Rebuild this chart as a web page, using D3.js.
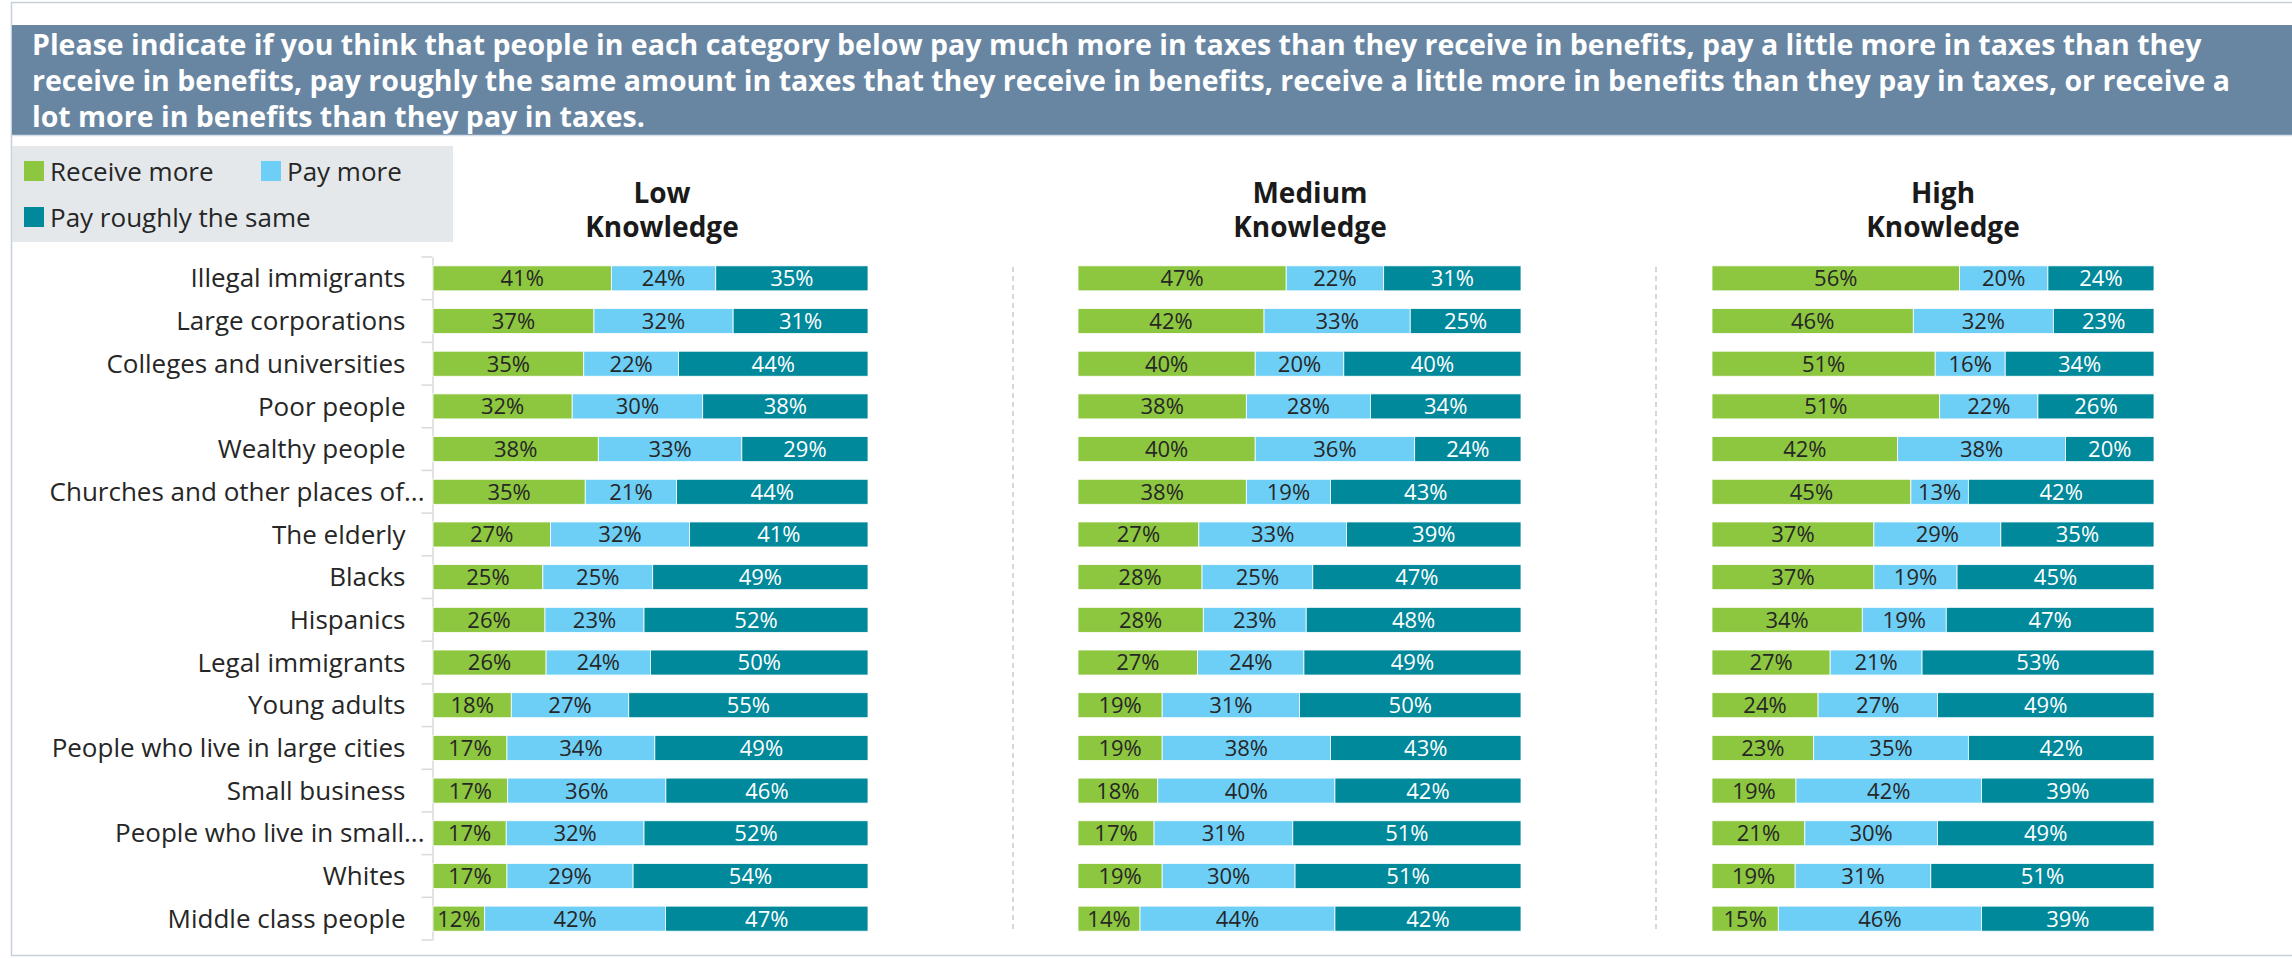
<!DOCTYPE html>
<html>
<head>
<meta charset="utf-8">
<script src="https://cdn.jsdelivr.net/npm/d3@7"></script>
<style>
  html, body { margin: 0; padding: 0; background: #fff; }
  svg { display: block; font-family: "Open Sans", "Noto Sans", sans-serif; }
</style>
</head>
<body>
<svg id="chart" width="2292" height="958"></svg>
<script>
// ---- data ----
const titleLines = [
    "Please indicate if you think that people in each category below pay much more in taxes than they receive in benefits, pay a little more in taxes than they",
    "receive in benefits, pay roughly the same amount in taxes that they receive in benefits, receive a little more in benefits than they pay in taxes, or receive a",
    "lot more in benefits than they pay in taxes."
];

const categories = [
    "Illegal immigrants", "Large corporations", "Colleges and universities", "Poor people",
    "Wealthy people", "Churches and other places of...", "The elderly", "Blacks",
    "Hispanics", "Legal immigrants", "Young adults", "People who live in large cities",
    "Small business", "People who live in small...", "Whites", "Middle class people"
];

const seriesNames = ["Receive more", "Pay more", "Pay roughly the same"];
const panelNames = [["Low", "Knowledge"], ["Medium", "Knowledge"], ["High", "Knowledge"]];

const lowReceive = [41, 37, 35, 32, 38, 35, 27, 25, 26, 26, 18, 17, 17, 17, 17, 12];
const lowPay     = [24, 32, 22, 30, 33, 21, 32, 25, 23, 24, 27, 34, 36, 32, 29, 42];
const lowSame    = [35, 31, 44, 38, 29, 44, 41, 49, 52, 50, 55, 49, 46, 52, 54, 47];

const medReceive = [47, 42, 40, 38, 40, 38, 27, 28, 28, 27, 19, 19, 18, 17, 19, 14];
const medPay     = [22, 33, 20, 28, 36, 19, 33, 25, 23, 24, 31, 38, 40, 31, 30, 44];
const medSame    = [31, 25, 40, 34, 24, 43, 39, 47, 48, 49, 50, 43, 42, 51, 51, 42];

const highReceive = [56, 46, 51, 51, 42, 45, 37, 37, 34, 27, 24, 23, 19, 21, 19, 15];
const highPay     = [20, 32, 16, 22, 38, 13, 29, 19, 19, 21, 27, 35, 42, 30, 31, 46];
const highSame    = [24, 23, 34, 26, 20, 42, 35, 45, 47, 53, 49, 42, 39, 49, 51, 39];

// ---- layout / style ----
const colors = ["#8dc63f", "#6dcff6", "#00889b"];
const labelColors = ["#262626", "#262626", "#ffffff"];
const panelRanges = [[433, 868], [1078, 1521], [1712, 2154]];
const panelTitleX = [662, 1310, 1943];
const separatorX = [null, 1013, 1656];

const svg = d3.select("#chart");

// outer frame
svg.append("rect")
    .attr("x", 11.5).attr("y", 2.5)
    .attr("width", 2300).attr("height", 953)
    .attr("fill", "#fff")
    .attr("stroke", "#c5d0da").attr("stroke-width", 1.5);

// title bar
svg.append("rect")
    .attr("x", 12).attr("y", 25)
    .attr("width", 2280).attr("height", 110)
    .attr("fill", "#6886a2");
svg.append("line")
    .attr("x1", 12).attr("x2", 2292)
    .attr("y1", 135.5).attr("y2", 135.5)
    .attr("stroke", "#d6e0ea").attr("stroke-width", 1.5);

svg.append("g").selectAll("text")
    .data(titleLines)
    .join("text")
    .attr("x", 32)
    .attr("y", (d, i) => 55 + i * 36)
    .attr("fill", "#fff")
    .attr("font-weight", 700)
    .attr("font-size", 28.5)
    .text(d => d);

// legend
const legend = svg.append("g");
legend.append("rect")
    .attr("x", 12).attr("y", 146)
    .attr("width", 441).attr("height", 96)
    .attr("fill", "#e5e8eb");

const legendPos = [[24, 161], [261, 161], [24, 207]];
const legendItem = legend.selectAll("g.item")
    .data(seriesNames)
    .join("g")
    .attr("class", "item")
    .attr("transform", (d, i) => `translate(${legendPos[i][0]},${legendPos[i][1]})`);
legendItem.append("rect")
    .attr("width", 20).attr("height", 20)
    .attr("fill", (d, i) => colors[i]);
legendItem.append("text")
    .attr("x", 26).attr("y", 20)
    .attr("font-size", 26)
    .attr("fill", "#262626")
    .text(d => d);

// shared category scale
const y = d3.scaleBand()
    .domain(categories)
    .range([257, 940])
    .paddingInner(0.414)
    .paddingOuter(0.207);

// category axis on the first panel
const yAxis = d3.axisLeft(y)
    .tickSize(0)
    .tickPadding(0);
const axisG = svg.append("g")
    .attr("transform", `translate(${panelRanges[0][0] - 0.5},0)`)
    .call(yAxis);
axisG.select(".domain").attr("stroke", "#d9d9d9").attr("stroke-width", 1.5);
axisG.selectAll(".tick text")
    .attr("font-family", "\"Open Sans\", \"Noto Sans\", sans-serif")
    .attr("font-size", 26)
    .attr("fill", "#262626")
    .attr("x", d => d.endsWith("...") ? -8 : -27)
    .attr("dy", "0.35em");

// tick marks between categories
const boundaries = d3.range(categories.length + 1).map(i => 257 + i * y.step());
axisG.selectAll("line.sep")
    .data(boundaries)
    .join("line")
    .attr("class", "sep")
    .attr("x1", -11).attr("x2", 0)
    .attr("y1", d => d).attr("y2", d => d)
    .attr("stroke", "#d9d9d9").attr("stroke-width", 1.5);

// panels
const panelData = [
    [lowReceive, lowPay, lowSame],
    [medReceive, medPay, medSame],
    [highReceive, highPay, highSame]
];

panelData.forEach((series, p) => {
    const g = svg.append("g");

    const rows = categories.map((c, i) => {
        const vals = series.map(s => s[i]);
        const total = d3.sum(vals);
        let acc = 0;
        return vals.map((v, k) => {
            const seg = { cat: c, k, v, x0: acc / total, x1: (acc + v) / total };
            acc += v;
            return seg;
        });
    }).flat();

    const x = d3.scaleLinear().domain([0, 1]).range(panelRanges[p]);

    g.selectAll("rect.seg")
        .data(rows)
        .join("rect")
        .attr("class", "seg")
        .attr("x", d => x(d.x0))
        .attr("y", d => y(d.cat))
        .attr("width", d => x(d.x1) - x(d.x0))
        .attr("height", y.bandwidth())
        .attr("fill", d => colors[d.k])
        .attr("stroke", "#fff")
        .attr("stroke-width", 0.8);

    g.selectAll("text.val")
        .data(rows)
        .join("text")
        .attr("class", "val")
        .attr("x", d => (x(d.x0) + x(d.x1)) / 2)
        .attr("y", d => y(d.cat) + y.bandwidth() / 2)
        .attr("dy", "0.36em")
        .attr("text-anchor", "middle")
        .attr("font-size", 22)
        .attr("fill", d => labelColors[d.k])
        .text(d => d.v + "%");

    // panel title
    g.append("text")
        .attr("text-anchor", "middle")
        .attr("font-weight", 700)
        .attr("font-size", 28)
        .attr("fill", "#1a1a1a")
        .selectAll("tspan")
        .data(panelNames[p])
        .join("tspan")
        .attr("x", panelTitleX[p])
        .attr("y", (d, i) => 203 + i * 34)
        .text(d => d);

    if (separatorX[p] !== null) {
        g.append("line")
            .attr("x1", separatorX[p]).attr("x2", separatorX[p])
            .attr("y1", 267).attr("y2", 930)
            .attr("stroke", "#c8ccd0")
            .attr("stroke-width", 1.5)
            .attr("stroke-dasharray", "5,4");
    }
});
</script>
</body>
</html>
